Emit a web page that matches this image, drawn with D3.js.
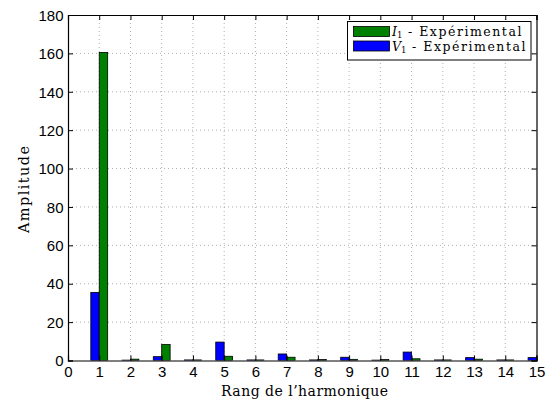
<!DOCTYPE html>
<html><head><meta charset="utf-8">
<script src="https://cdn.jsdelivr.net/npm/d3@7"></script>
<style>body{margin:0;background:#fff}</style>
</head><body>
<svg id="c" width="553" height="403"></svg>
<script>
const harmonics = [1,2,3,4,5,6,7,8,9,10,11,12,13,14,15];
const V1 = [35.5,0.2,2.0,0.3,9.6,0.3,3.4,0.3,1.7,0.2,4.4,0.3,1.5,0.3,1.5];
const I1 = [160.5,0.7,8.3,0.3,2.2,0.3,1.7,0.5,0.6,0.5,0.9,0.3,0.7,0.3,0.1];
const xTicks = d3.range(0,16);
const yTicks = [0,20,40,60,80,100,120,140,160,180];
const seriesNames = ["I₁ - Expérimental","V₁ - Expérimental"];

const svg = d3.select("#c");
const L=68, R=536.5, T=15, B=360.5;
const x = d3.scaleLinear().domain([0,15]).range([L,R]);
const y = d3.scaleLinear().domain([0,180]).range([B,T]);
const bw = 0.27;

// grid
const g = svg.append("g");
g.selectAll(".vg").data(xTicks.slice(1,-1)).enter().append("line")
 .attr("x1",d=>x(d)).attr("x2",d=>x(d)).attr("y1",T).attr("y2",B)
 .attr("stroke","#999").attr("stroke-width",0.8).attr("stroke-dasharray","1,3");
g.selectAll(".hg").data(yTicks.slice(1,-1)).enter().append("line")
 .attr("y1",d=>y(d)).attr("y2",d=>y(d)).attr("x1",L).attr("x2",R)
 .attr("stroke","#999").attr("stroke-width",0.8).attr("stroke-dasharray","1,3");

svg.append("clipPath").attr("id","clip").append("rect").attr("x",L).attr("y",T).attr("width",R-L).attr("height",B-T);
const bars = svg.append("g").attr("clip-path","url(#clip)");
bars.selectAll(".v").data(harmonics).enter().append("rect")
 .attr("x",(d)=>x(d-bw)).attr("width",x(bw)-x(0))
 .attr("y",(d,i)=>y(V1[i])).attr("height",(d,i)=>B-y(V1[i]))
 .attr("fill","#0000ff").attr("stroke","#000").attr("stroke-width",0.8);
bars.selectAll(".i").data(harmonics).enter().append("rect")
 .attr("x",(d)=>x(d)).attr("width",x(bw)-x(0))
 .attr("y",(d,i)=>y(I1[i])).attr("height",(d,i)=>B-y(I1[i]))
 .attr("fill","#008000").attr("stroke","#000").attr("stroke-width",0.8);

// axes
const tickFont = "Liberation Sans, Arial, sans-serif";
const ax = svg.append("g").attr("transform",`translate(0,${B})`).call(d3.axisBottom(x).tickValues(xTicks).tickSize(-5).tickPadding(6).tickFormat(d3.format("d")));
const ay = svg.append("g").attr("transform",`translate(${L},0)`).call(d3.axisLeft(y).tickValues(yTicks).tickSize(-5).tickPadding(4.5).tickFormat(d3.format("d")));
const at = svg.append("g").attr("transform",`translate(0,${T})`).call(d3.axisTop(x).tickValues(xTicks).tickSize(-5).tickFormat(""));
const ar = svg.append("g").attr("transform",`translate(${R},0)`).call(d3.axisRight(y).tickValues(yTicks).tickSize(-5).tickFormat(""));
[ax,ay,at,ar].forEach(a=>{
  a.select(".domain").attr("stroke","#000").attr("stroke-width",1.2);
  a.selectAll("text").attr("font-family",tickFont).attr("font-size",15).attr("fill","#000");
});
ax.selectAll("text").attr("dy","0.71em");
ay.selectAll("text").attr("dy","0.35em");

const serif = "DejaVu Serif, serif";
svg.append("text").attr("x",304.5).attr("y",396).attr("text-anchor","middle")
 .attr("font-family",serif).attr("font-size",14)
 .attr("textLength",167).attr("lengthAdjust","spacing").text("Rang de l’harmonique");
svg.append("text").attr("transform",`translate(28.5,189.5) rotate(-90)`).attr("text-anchor","middle")
 .attr("font-family",serif).attr("font-size",14.5)
 .attr("textLength",87).attr("lengthAdjust","spacing").text("Amplitude");

// legend
const lg = svg.append("g");
const lx=347.5, ly=21.5, lw=183.5, lh=38.5;
lg.append("rect").attr("x",lx).attr("y",ly).attr("width",lw).attr("height",lh).attr("fill","#fff").attr("stroke","#000").attr("stroke-width",1);
const colors=["#008000","#0000ff"];
const letters=["I","V"];
seriesNames.forEach((n,i)=>{
  const yy = 26.5 + i*14.5;
  lg.append("rect").attr("x",353.5).attr("y",yy).attr("width",36).attr("height",10).attr("fill",colors[i]).attr("stroke","#000").attr("stroke-width",0.8);
  const t = lg.append("text").attr("x",392).attr("y",yy+9.5).attr("font-family",serif).attr("font-size",12.5);
  t.append("tspan").attr("font-style","italic").text(letters[i]);
  t.append("tspan").attr("font-size",8.5).attr("dy",2).text("1");
  t.append("tspan").attr("dy",-2).attr("textLength",119).attr("lengthAdjust","spacing").text(" - Expérimental");
});
</script>
</body></html>
